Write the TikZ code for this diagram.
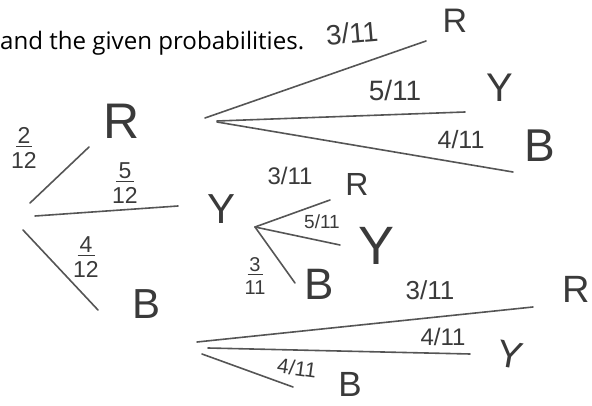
\documentclass[tikz,border=0pt]{standalone}
\usepackage{fontspec}
\setmainfont{Open Sans}
\newfontfamily\hand{Liberation Sans}
\definecolor{ink}{HTML}{3A3A3A}
\definecolor{pen}{HTML}{555555}
\newcommand{\fsz}[1]{\fontsize{#1}{#1}\selectfont}
\newcommand{\sfrac}[3]{\shortstack{#1\\[-1pt]\rule{#3}{1.4pt}\\[2pt]#2}}
\tikzset{
  branch/.style={draw=pen, line width=1.6pt, line cap=round},
  lab/.style={text=ink, inner sep=0pt, font=\hand},
}
\begin{document}
\begin{tikzpicture}[x=1pt,y=-1pt]
\useasboundingbox (0,0) rectangle (592,406);
% header
\node[anchor=base west, inner sep=0pt, text=black] (head) at (0,50)
  {\resizebox{304pt}{!}{and the given probabilities.}};
% first level
\coordinate (a1) at (30,203);  \coordinate (r1) at (89,147);
\coordinate (a2) at (35,216);  \coordinate (y1) at (178,206);
\coordinate (a3) at (23,230);  \coordinate (b1) at (98,310);
\draw[branch] (a1) -- (r1);
\draw[branch] (a2) -- (y1);
\draw[branch] (a3) -- (b1);
% after R
\coordinate (rr0) at (205,118); \coordinate (rr) at (426,41);
\coordinate (ry0) at (217,121); \coordinate (ry) at (465,112);
\coordinate (rb0) at (217,122); \coordinate (rb) at (513,172);
\draw[branch] (rr0) -- (rr);
\draw[branch] (ry0) -- (ry);
\draw[branch] (rb0) -- (rb);
% after Y
\coordinate (yo) at (255,227);
\coordinate (yr) at (330,200); \coordinate (yy) at (340,245); \coordinate (yb) at (295,283);
\draw[branch] (yo) -- (yr);
\draw[branch] (yo) -- (yy);
\draw[branch] (yo) -- (yb);
% after B
\coordinate (br0) at (197,342); \coordinate (br) at (533,307);
\coordinate (by0) at (208,348); \coordinate (by) at (470,354);
\coordinate (bb0) at (202,354); \coordinate (bb) at (293,387);
\draw[branch] (br0) -- (br);
\draw[branch] (by0) -- (by);
\draw[branch] (bb0) -- (bb);
% first level labels
\node[lab, font=\hand\fsz{23}] (p1) at (24,148) {\sfrac{2}{12}{16pt}};
\node[lab, font=\hand\fsz{23}] (p2) at (125,183) {\sfrac{5}{12}{18pt}};
\node[lab, font=\hand\fsz{23}] (p3) at (86,257) {\sfrac{4}{12}{17pt}};
\node[lab, font=\hand\fsz{50}] (R1) at (122,121) {R};
\node[lab, font=\hand\fsz{42}] (Y1) at (222,209) {Y};
\node[lab, font=\hand\fsz{42}] (B1) at (147,304) {B};
% after R labels
\node[lab, font=\hand\fsz{28}, rotate=5] (q1) at (352,33) {3/11};
\node[lab, font=\hand\fsz{28}] (q2) at (395,90) {5/11};
\node[lab, font=\hand\fsz{25}] (q3) at (461,140) {4/11};
\node[lab, font=\hand\fsz{34}] (R2) at (455,21) {R};
\node[lab, font=\hand\fsz{40}] (Y2) at (500,88) {Y};
\node[lab, font=\hand\fsz{46}] (B2) at (540,146) {B};
% after Y labels
\node[lab, font=\hand\fsz{24}] (s1) at (290,176) {3/11};
\node[lab, font=\hand\fsz{19}] (s2) at (322,222) {5/11};
\node[lab, font=\hand\fsz{20}] (s3) at (255,276) {\sfrac{3}{11}{15pt}};
\node[lab, font=\hand\fsz{32}] (R3) at (357,184) {R};
\node[lab, font=\hand\fsz{54}] (Y3) at (377,246) {Y};
\node[lab, font=\hand\fsz{44}] (B3) at (319,284) {B};
% after B labels
\node[lab, font=\hand\fsz{26}] (t1) at (430,290) {3/11};
\node[lab, font=\hand\fsz{24}] (t2) at (443,337) {4/11};
\node[lab, font=\hand\fsz{21}, rotate=-8] (t3) at (297,368) {4/11};
\node[lab, font=\hand\fsz{38}] (R4) at (576,289) {R};
\node[lab, font=\hand\fsz{38}, rotate=-10] (Y4) at (510,355) {Y};
\node[lab, font=\hand\fsz{35}] (B4) at (350,384) {B};
\end{tikzpicture}
\end{document}
